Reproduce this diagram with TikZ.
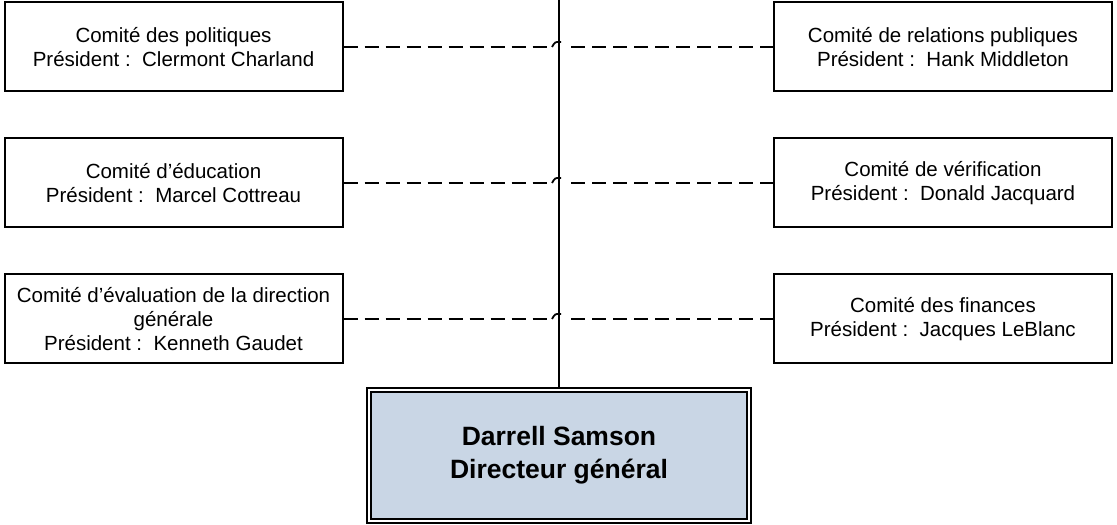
\documentclass[tikz,border=0pt]{standalone}
\usepackage{fontspec}
\setmainfont{Liberation Sans}
\definecolor{boxfill}{RGB}{201,214,229}
\begin{document}
\begin{tikzpicture}[x=1pt,y=1pt,
  comite/.style={draw, line width=2pt, minimum width=338pt, minimum height=89pt,
    align=center, inner sep=0pt, font=\fontsize{20.5}{24}\selectfont},
  dgbox/.style={draw, double, line width=1.7pt, double distance=2.5pt, fill=boxfill,
    minimum width=380pt, minimum height=131pt, align=center, inner sep=0pt,
    font=\bfseries\fontsize{26.5}{33}\selectfont},
  conn/.style={line width=1.8pt, dash pattern=on 14pt off 7pt},
  hop/.style={line width=1.8pt},
  trunk/.style={line width=2pt}]
\useasboundingbox (0,0) rectangle (1117,525);

\node[comite] (L1) at (173.5,478) {Comité des politiques\\Président :\ \ Clermont Charland};
\node[comite] (L2) at (173.5,342) {Comité d’éducation\\Président :\ \ Marcel Cottreau};
\node[comite] (L3) at (173.5,206) {Comité d’évaluation de la direction\\générale\\Président :\ \ Kenneth Gaudet};

\node[comite] (R1) at (943,478) {Comité de relations publiques\\Président :\ \ Hank Middleton};
\node[comite] (R2) at (943,342) {Comité de vérification\\Président :\ \ Donald Jacquard};
\node[comite] (R3) at (943,206) {Comité des finances\\Président :\ \ Jacques LeBlanc};

\node[dgbox] (DG) at (559,69.5) {Darrell Samson\\Directeur général};

\coordinate (vtop) at (559,525);
\draw[trunk] (vtop) -- (DG.north);

\foreach \a/\b in {L1/R1,L2/R2,L3/R3}{
  \coordinate (hl) at ([xshift=-7pt]\a.east -| vtop);
  \coordinate (hr) at ([xshift=5pt]\a.east -| vtop);
  \draw[conn] (\a.east) -- (hl);
  \draw[hop] (hl) .. controls ([xshift=3pt,yshift=5pt]hl) .. ([xshift=7pt,yshift=5pt]hl) -- ++(2pt,0);
  \draw[conn, dash phase=14pt] (hr) -- (\b.west);
}
\end{tikzpicture}
\end{document}
